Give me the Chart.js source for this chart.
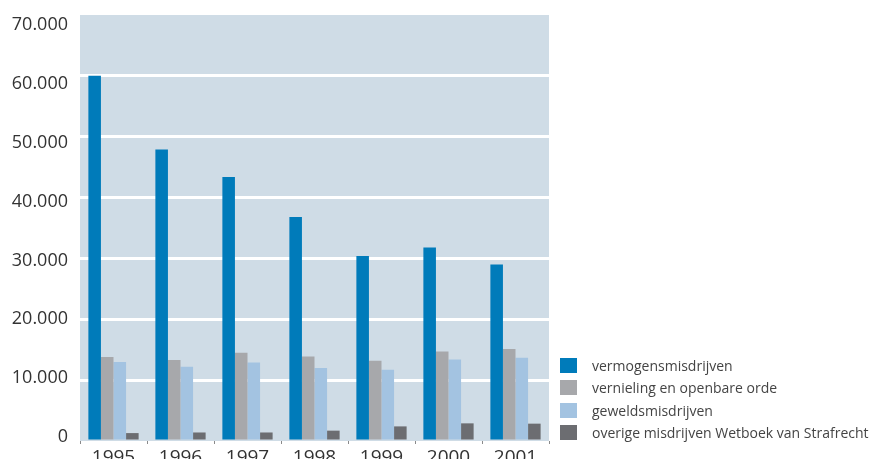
<!DOCTYPE html>
<html>
<head>
<meta charset="utf-8">
<script src="https://cdn.jsdelivr.net/npm/chart.js@4.4.1/dist/chart.umd.min.js"></script>
<style>
  html, body { margin: 0; padding: 0; background: #fff; }
  #wrap { position: relative; width: 874px; height: 459px; overflow: hidden; }
  #chart { position: absolute; left: 0; top: 0; }
  #legend { position: absolute; left: 560px; top: 358px; font-family: "Open Sans", sans-serif; font-size: 14px; color: #444; }
  .item { position: relative; height: 22.3px; }
  .sw { position: absolute; left: 0; top: 0; width: 17px; height: 15px; }
  .tx { position: absolute; left: 32px; top: -2px; line-height: 19px; white-space: nowrap; }
</style>
</head>
<body>
<div id="wrap">
  <canvas id="chart" width="874" height="459"></canvas>
  <div id="legend"></div>
</div>
<script>
// Jaren en aantallen per soort misdrijf
const years = ['1995', '1996', '1997', '1998', '1999', '2000', '2001'];
const seriesNames = [
  'vermogensmisdrijven',
  'vernieling en openbare orde',
  'geweldsmisdrijven',
  'overige misdrijven Wetboek van Strafrecht'
];
const vermogen = [60000, 47900, 43400, 36800, 30400, 31800, 29000];
const vernieling = [13800, 13300, 14500, 13900, 13200, 14700, 15100];
const geweld = [13000, 12200, 12900, 12000, 11700, 13400, 13700];
const overige = [1300, 1400, 1400, 1700, 2400, 2900, 2850];
const yTicks = [0, 10000, 20000, 30000, 40000, 50000, 60000, 70000];
const colors = ['#007bba', '#a7a8ab', '#a3c3e1', '#6c6d71'];

const fmt = v => String(v).replace(/\B(?=(\d{3})+(?!\d))/g, '.');

const plotBackground = {
  id: 'plotBackground',
  beforeDraw(chart) {
    const a = chart.chartArea, c = chart.ctx;
    c.save();
    c.fillStyle = '#cfdce6';
    c.fillRect(a.left, a.top, a.right - a.left, a.bottom - a.top);
    c.restore();
  }
};

const noPad = s => { s.paddingTop = 0; s.paddingBottom = 0; s.paddingLeft = 0; s.paddingRight = 0; };

const series = [vermogen, vernieling, geweld, overige];
new Chart(document.getElementById('chart'), {
  type: 'bar',
  data: {
    labels: years,
    datasets: series.map((d, i) => ({
      label: seriesNames[i],
      data: d,
      backgroundColor: colors[i],
      borderWidth: 0,
      categoryPercentage: 0.75,
      barPercentage: 1.0
    }))
  },
  options: {
    responsive: false,
    animation: false,
    layout: { padding: { top: 15, right: 325, bottom: 0, left: 0 } },
    plugins: { legend: { display: false }, tooltip: { enabled: false } },
    scales: {
      x: {
        grid: { drawOnChartArea: false, drawTicks: true, tickLength: 3, color: '#8a8a8a', lineWidth: 1 },
        border: { display: false },
        ticks: { font: { family: 'Open Sans', size: 19 }, color: '#333', padding: 2, maxRotation: 0 },
        afterFit: s => { s.height = 18; noPad(s); }
      },
      y: {
        min: 0, max: 70000,
        ticks: { display: false, stepSize: 10000 },
        grid: {
          drawTicks: false,
          lineWidth: 3,
          color: ctx => (ctx.tick && (ctx.tick.value === 0 || ctx.tick.value === 70000)) ? 'rgba(0,0,0,0)' : '#ffffff'
        },
        border: { display: false },
        afterFit: s => { s.width = 0; noPad(s); }
      },
      yLabels: {
        position: 'left',
        min: -680, max: 71700,
        grid: { display: false, drawTicks: false },
        border: { display: false },
        ticks: { font: { family: 'Open Sans', size: 18 }, color: '#333', padding: 12, callback: v => fmt(v) },
        afterBuildTicks: s => { s.ticks = yTicks.map(v => ({ value: v })); },
        afterFit: s => { s.width = 80; noPad(s); }
      }
    }
  },
  plugins: [plotBackground]
});

// Legenda
const leg = document.getElementById('legend');
seriesNames.forEach((n, i) => {
  const it = document.createElement('div');
  it.className = 'item';
  it.innerHTML = '<div class="sw" style="background:' + colors[i] + '"></div><div class="tx"></div>';
  it.querySelector('.tx').textContent = n;
  leg.appendChild(it);
});
</script>
</body>
</html>
